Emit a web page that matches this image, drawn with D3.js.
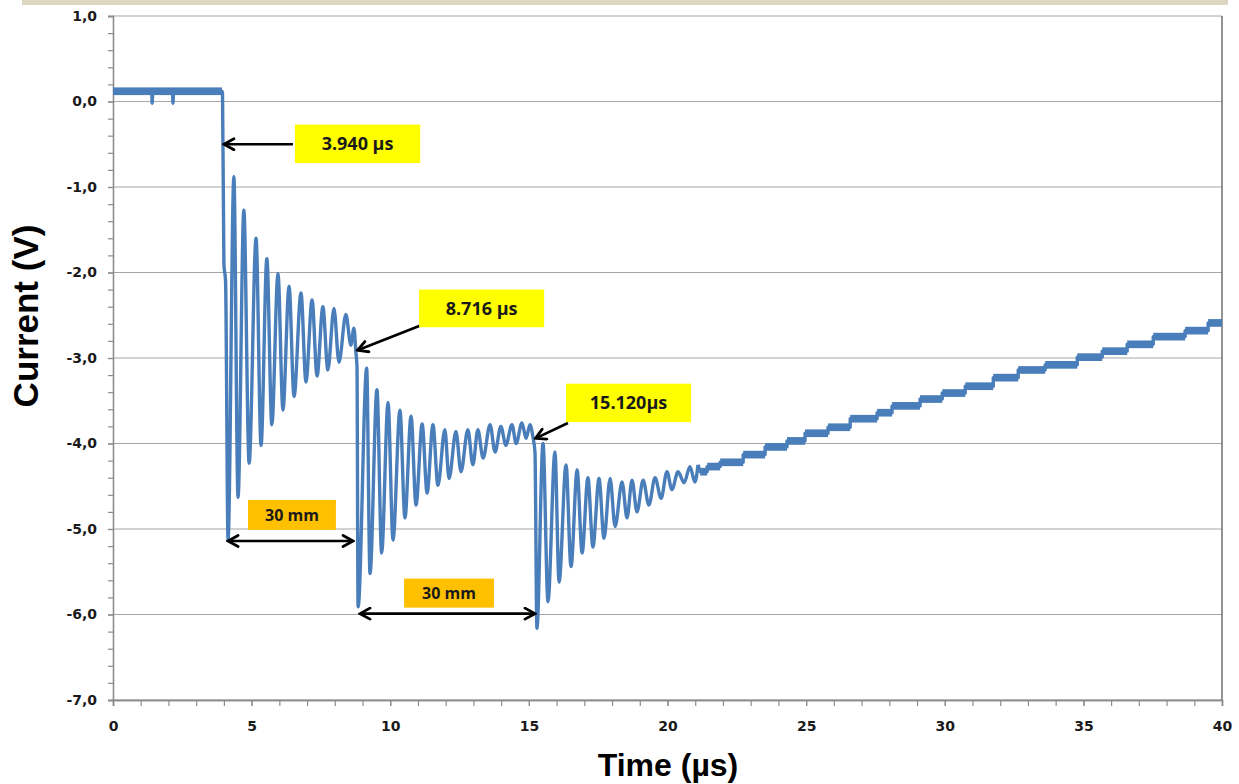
<!DOCTYPE html>
<html>
<head>
<meta charset="utf-8">
<script src="https://cdn.jsdelivr.net/npm/d3@7"></script>
<style>
  body{margin:0;background:#fff;}
  svg text{font-family:"Open Sans","DejaVu Sans",sans-serif;}
</style>
</head>
<body>
<div id="chart"></div>
<script>
// time axis ticks (us) and current axis ticks (V)
var xTicks = [0,5,10,15,20,25,30,35,40];
var yTicks = [1,0,-1,-2,-3,-4,-5,-6,-7];

// quiet level before the first front, with two small dips
var flatTrace = [[0,0.12],[1.40,0.12],[1.41,-0.02],[1.44,0.12],[2.15,0.12],[2.16,-0.02],[2.19,0.12],[3.93,0.12]];
var flatBand = [[0,3.93,0.12]];

// first front and ringing
var burst1 = [[3.95,0.10],[4.00,-1.90],[4.06,-2.10],[4.15,-5.13],
  [4.36,-0.88],[4.51,-4.63],[4.72,-1.27],[4.91,-4.23],[5.16,-1.60],[5.34,-4.02],
  [5.55,-1.84],[5.73,-3.78],[5.95,-2.01],[6.13,-3.61],[6.35,-2.16],[6.53,-3.45],
  [6.78,-2.24],[6.96,-3.28],[7.18,-2.32],[7.36,-3.21],[7.57,-2.40],[7.75,-3.14],
  [7.97,-2.42],[8.15,-3.05],[8.40,-2.49],[8.58,-2.85],[8.69,-2.65],[8.76,-2.93]];

// reflection 1
var burst2 = [[8.80,-3.10],[8.84,-5.91],
  [9.15,-3.12],[9.27,-5.52],[9.52,-3.37],[9.69,-5.28],[9.92,-3.52],[10.10,-5.13],
  [10.35,-3.61],[10.53,-4.87],[10.75,-3.68],[10.93,-4.72],[11.15,-3.77],[11.33,-4.58],
  [11.54,-3.78],[11.72,-4.49],[11.97,-3.84],[12.12,-4.41],[12.37,-3.86],[12.55,-4.33],
  [12.80,-3.84],[12.98,-4.25],[13.16,-3.84],[13.35,-4.17],[13.60,-3.78],[13.78,-4.10],
  [13.99,-3.80],[14.17,-4.02],[14.39,-3.78],[14.54,-4.00],[14.75,-3.76],[14.90,-3.94],
  [15.04,-3.78],[15.15,-3.93]];

// reflection 2
var burst3 = [[15.22,-4.10],[15.29,-6.16],
  [15.51,-4.00],[15.69,-5.85],[15.94,-4.10],[16.09,-5.62],[16.34,-4.25],[16.52,-5.44],
  [16.74,-4.31],[16.92,-5.28],[17.13,-4.40],[17.31,-5.21],[17.53,-4.41],[17.71,-5.11],
  [17.93,-4.41],[18.11,-4.97],[18.36,-4.45],[18.54,-4.87],[18.72,-4.43],[18.90,-4.80],
  [19.12,-4.43],[19.33,-4.72],[19.55,-4.40],[19.77,-4.64],[19.98,-4.33],[20.16,-4.54],
  [20.38,-4.33],[20.60,-4.46],[20.81,-4.27],[20.99,-4.45],[21.10,-4.25]];

// slow recovery: digitiser steps [start, end, level]
var tailSteps = [[21.18,21.43,-4.33],[21.43,21.90,-4.27],[21.90,22.73,-4.22],[22.73,23.52,-4.13],
  [23.52,24.31,-4.04],[24.31,24.96,-3.97],[24.96,25.79,-3.88],[25.79,26.59,-3.81],
  [26.59,27.56,-3.71],[27.56,28.10,-3.64],[28.10,29.11,-3.56],[29.11,29.91,-3.48],
  [29.91,30.74,-3.41],[30.74,31.75,-3.33],[31.75,32.65,-3.23],[32.65,33.62,-3.14],
  [33.62,34.78,-3.08],[34.78,35.68,-2.99],[35.68,36.58,-2.92],[36.58,37.52,-2.84],
  [37.52,38.67,-2.75],[38.67,39.50,-2.68],[39.50,40,-2.59]];

// callouts: label, box [t0,t1,v0,v1], arrow from -> to
var callouts = [
  {label:"3.940 \u00b5s", box:[6.56,11.08,-0.27,-0.72], from:[6.49,-0.50], to:[4.00,-0.50]},
  {label:"8.716 \u00b5s", box:[11.04,15.55,-2.20,-2.64], from:[11.25,-2.60], to:[8.82,-2.91]},
  {label:"15.120\u00b5s", box:[16.34,20.85,-3.30,-3.75], from:[16.41,-3.76], to:[15.24,-3.94]}
];
var spans = [
  {label:"30 mm", box:[4.87,8.04,-4.66,-5.01], from:[4.15,-5.14], to:[8.66,-5.14]},
  {label:"30 mm", box:[10.50,13.74,-5.58,-5.92], from:[8.91,-5.99], to:[15.22,-5.99]}
];

(function(){
  var W = 1239, H = 784;
  var mLeft = 113, mRight = 1222, mTop = 16, mBottom = 700;
  var lineColor = "#4a7ebb";

  var x = d3.scaleLinear().domain([0,40]).range([mLeft,mRight]);
  var y = d3.scaleLinear().domain([-7,1]).range([mBottom,mTop]);
  var fmt = d3.formatLocale({decimal:",",thousands:".",grouping:[3],currency:["",""],minus:"-"}).format(".1f");

  var svg = d3.select("#chart").append("svg").attr("width",W).attr("height",H);

  svg.append("rect").attr("x",22).attr("y",0).attr("width",1206).attr("height",5).attr("fill","#ddd6c0");

  // gridlines
  svg.append("g").selectAll("line").data(yTicks).enter().append("line")
    .attr("x1",mLeft).attr("x2",mRight)
    .attr("y1",function(d){return y(d);}).attr("y2",function(d){return y(d);})
    .attr("stroke","#a6a6a6").attr("stroke-width",1.2);

  // right frame
  svg.append("line").attr("x1",mRight).attr("x2",mRight).attr("y1",mTop).attr("y2",mBottom)
    .attr("stroke","#6f6f6f").attr("stroke-width",1.5);

  // y axis, major + minor
  var minorY = d3.range(-7,1.0001,0.2).map(function(d){return +d.toFixed(1);});
  var gyMinor = svg.append("g").attr("transform","translate("+mLeft+",0)")
    .call(d3.axisLeft(y).tickValues(minorY).tickSize(5).tickFormat(""));
  var gy = svg.append("g").attr("transform","translate("+mLeft+",0)")
    .call(d3.axisLeft(y).tickValues(yTicks).tickSize(5).tickPadding(11).tickFormat(fmt));

  // x axis, major + minor
  var minorX = d3.range(0,41,1);
  var gxMinor = svg.append("g").attr("transform","translate(0,"+mBottom+")")
    .call(d3.axisBottom(x).tickValues(minorX).tickSize(6).tickFormat(""));
  var gx = svg.append("g").attr("transform","translate(0,"+mBottom+")")
    .call(d3.axisBottom(x).tickValues(xTicks).tickSize(6).tickPadding(15));

  [gy,gx].forEach(function(g){
    g.selectAll("text").style("font-size","14px").style("font-weight","bold")
      .style("font-family","'DejaVu Sans',sans-serif").attr("fill","#1a1a1a");
  });
  [gy,gyMinor,gx,gxMinor].forEach(function(g){
    g.select(".domain").attr("stroke","#8c8c8c").attr("stroke-width",1.3);
    g.selectAll(".tick line").attr("stroke","#8c8c8c").attr("stroke-width",1.2);
  });

  // axis titles
  svg.append("text").attr("transform","translate(38,316) rotate(-90)")
    .attr("text-anchor","middle").style("font-size","35px").style("font-weight","bold")
    .style("font-family","'Liberation Sans',Arial,sans-serif").text("Current (V)");
  svg.append("text").attr("x",668).attr("y",776)
    .attr("text-anchor","middle").style("font-size","32px").style("font-weight","bold")
    .style("font-family","'Liberation Sans',Arial,sans-serif").text("Time (\u00b5s)");

  // noise bands (quiet level and steps)
  var bands = flatBand.concat(tailSteps);
  svg.append("g").selectAll("rect").data(bands).enter().append("rect")
    .attr("x",function(d){return x(d[0]);})
    .attr("width",function(d){return x(d[1])-x(d[0]);})
    .attr("y",function(d){return y(d[2]+0.045);})
    .attr("height",function(d){return y(d[2]-0.045)-y(d[2]+0.045);})
    .attr("fill",lineColor);

  // main trace: ringing part smoothed, step part straight
  var ringing = flatTrace.concat(burst1,burst2,burst3);
  var tailTrace = [burst3[burst3.length-1]];
  tailSteps.forEach(function(s){ tailTrace.push([s[0],s[2]]); tailTrace.push([s[1],s[2]]); });
  var smooth = d3.line().curve(d3.curveMonotoneX)
    .x(function(d){return x(d[0]);}).y(function(d){return y(d[1]);});
  var straight = d3.line().x(function(d){return x(d[0]);}).y(function(d){return y(d[1]);});
  svg.append("path").datum(ringing).attr("d",smooth)
    .attr("fill","none").attr("stroke",lineColor).attr("stroke-width",3.4)
    .attr("stroke-linejoin","round");
  svg.append("path").datum(tailTrace).attr("d",straight)
    .attr("fill","none").attr("stroke",lineColor).attr("stroke-width",3.4)
    .attr("stroke-linejoin","round");

  // arrow markers
  var defs = svg.append("defs");
  defs.append("marker").attr("id","head").attr("viewBox","0 -7 14 14")
    .attr("refX",12).attr("refY",0).attr("markerWidth",14).attr("markerHeight",14)
    .attr("markerUnits","userSpaceOnUse").attr("orient","auto-start-reverse")
    .append("path").attr("d","M2,-5.5L12,0L2,5.5").attr("fill","none")
    .attr("stroke","#000").attr("stroke-width",2.8).attr("stroke-linecap","round");

  function drawBoxes(list,fill,size,dbl){
    var g = svg.append("g");
    g.selectAll("line").data(list).enter().append("line")
      .attr("x1",function(d){return x(d.from[0]);}).attr("y1",function(d){return y(d.from[1]);})
      .attr("x2",function(d){return x(d.to[0]);}).attr("y2",function(d){return y(d.to[1]);})
      .attr("stroke","#000").attr("stroke-width",2.6)
      .attr("marker-end","url(#head)")
      .attr("marker-start",dbl?"url(#head)":null);
    g.selectAll("rect").data(list).enter().append("rect")
      .attr("x",function(d){return x(d.box[0]);}).attr("y",function(d){return y(d.box[2]);})
      .attr("width",function(d){return x(d.box[1])-x(d.box[0]);})
      .attr("height",function(d){return y(d.box[3])-y(d.box[2]);})
      .attr("fill",fill);
    g.selectAll("text").data(list).enter().append("text")
      .attr("x",function(d){return (x(d.box[0])+x(d.box[1]))/2;})
      .attr("y",function(d){return (y(d.box[2])+y(d.box[3]))/2;})
      .attr("dy","0.36em").attr("text-anchor","middle")
      .style("font-size",size+"px").style("font-weight","bold").attr("fill","#1a1a1a")
      .text(function(d){return d.label;});
  }
  drawBoxes(callouts,"#ffff00",18,false);
  drawBoxes(spans,"#ffc000",16,true);
})();
</script>
</body>
</html>
